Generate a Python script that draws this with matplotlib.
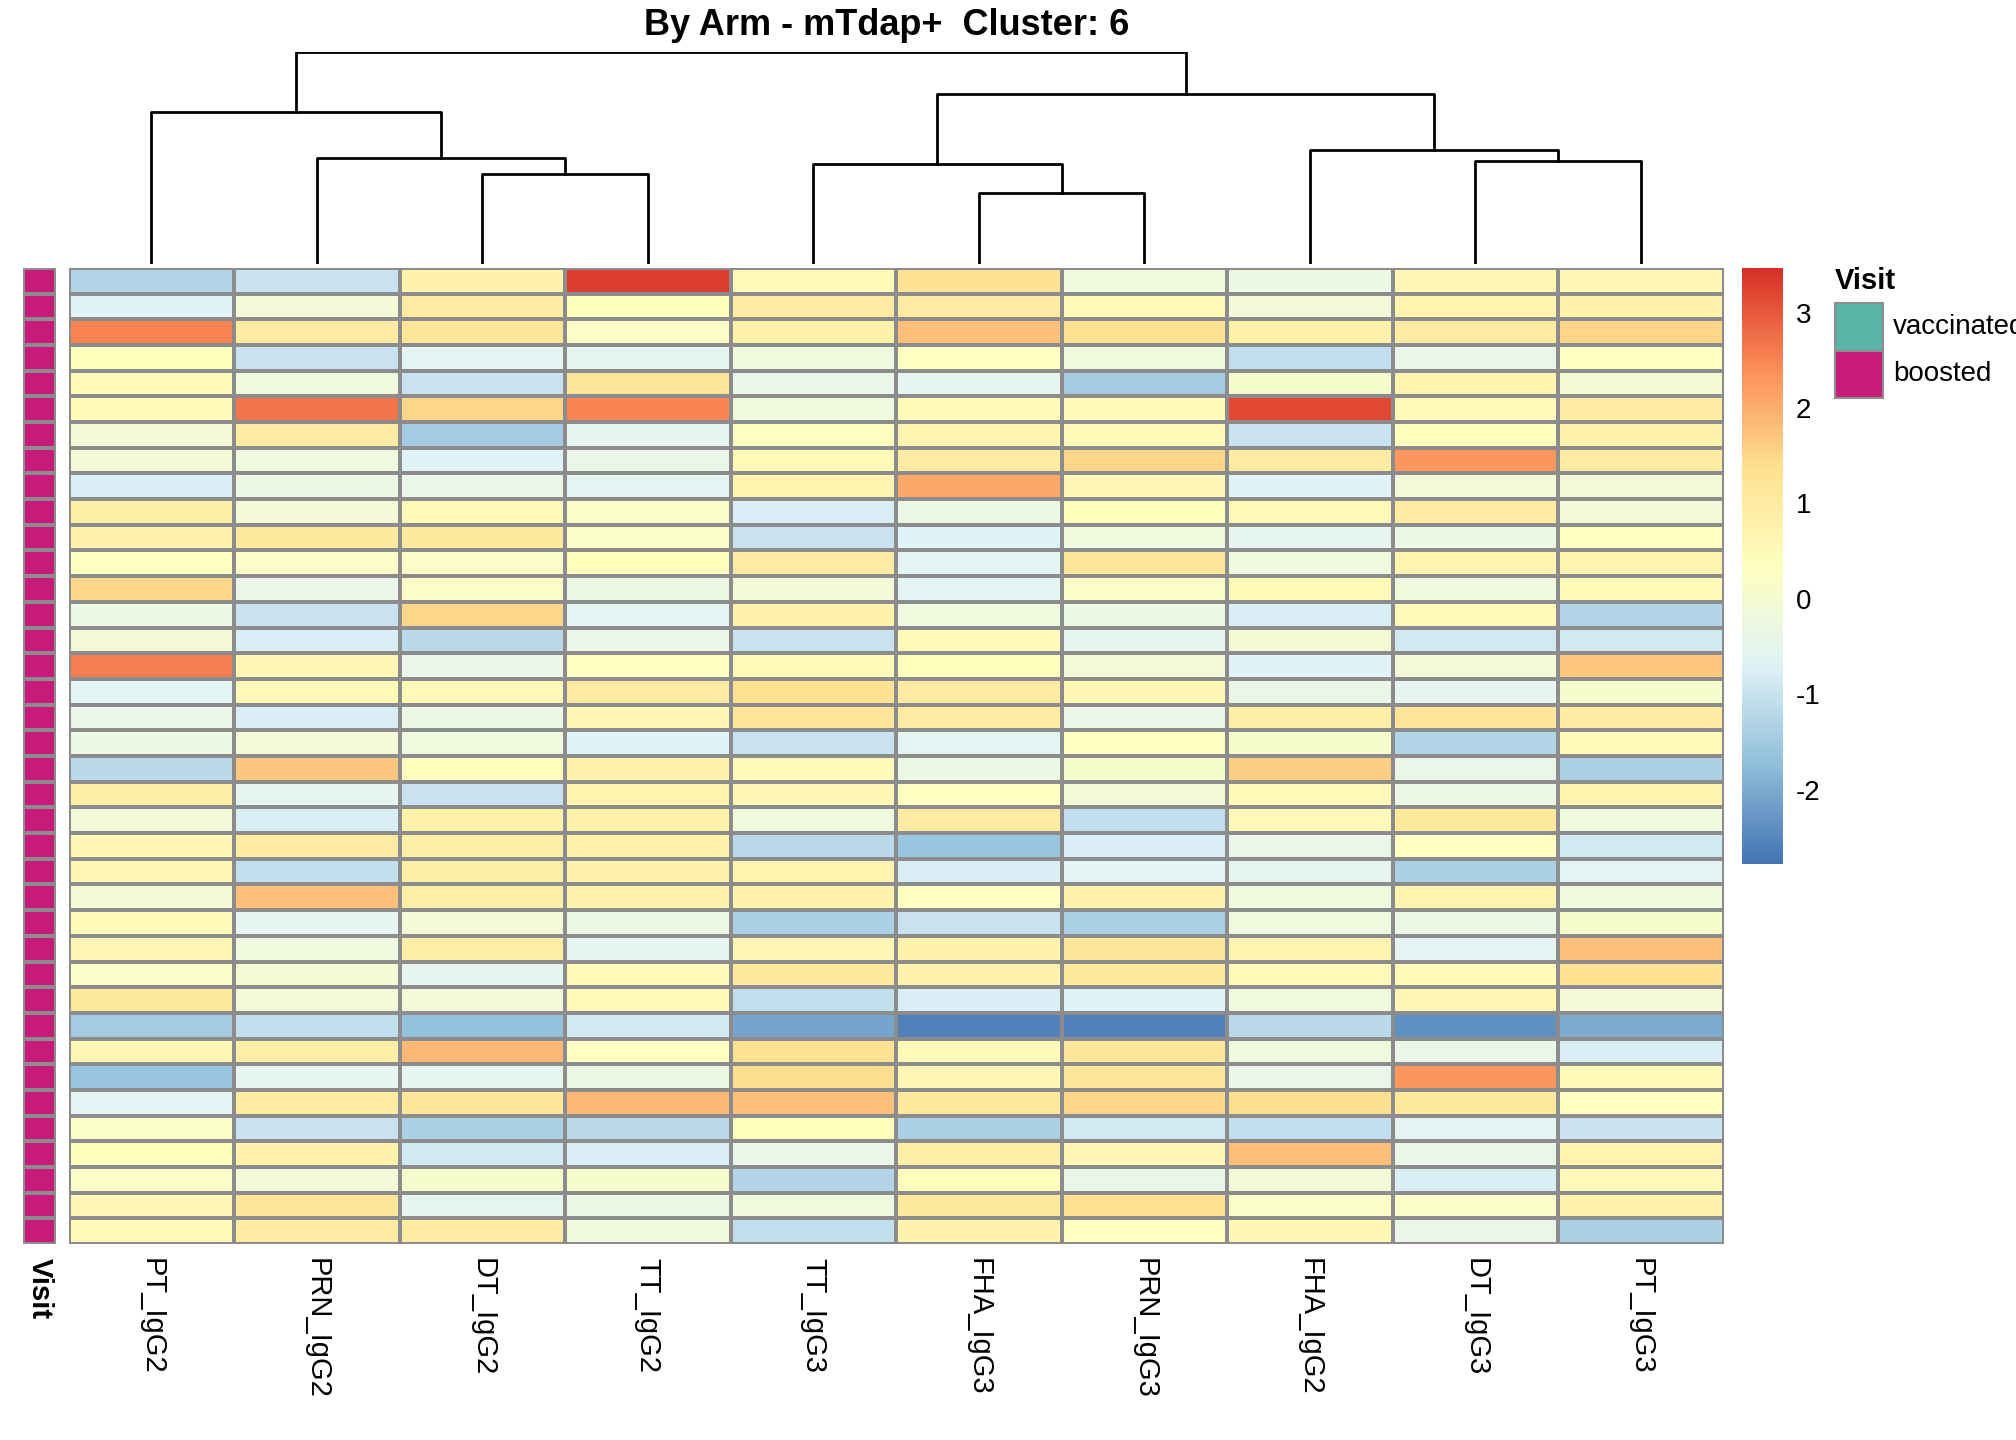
import matplotlib
matplotlib.use("Agg")
import matplotlib.pyplot as plt
import numpy as np
from matplotlib.patches import Rectangle
from matplotlib.colors import LinearSegmentedColormap, ListedColormap

plt.rcParams['font.family'] = ['Liberation Sans', 'DejaVu Sans']
plt.rcParams['axes.unicode_minus'] = False

columns = ["PT_IgG2", "PRN_IgG2", "DT_IgG2", "TT_IgG2", "TT_IgG3",
           "FHA_IgG3", "PRN_IgG3", "FHA_IgG2", "DT_IgG3", "PT_IgG3"]

values = np.array([
    [-1.3, -1.0, 0.8, 3.3, 0.5, 1.3, -0.2, -0.3, 0.6, 0.6],
    [-0.7, -0.1, 1.0, 0.4, 1.0, 1.0, 0.5, -0.1, 0.7, 0.8],
    [2.5, 1.0, 1.2, 0.2, 0.8, 1.8, 1.3, 0.8, 1.0, 1.5],
    [0.4, -1.0, -0.6, -0.5, -0.2, 0.3, -0.2, -1.1, -0.4, 0.3],
    [0.5, -0.2, -1.0, 1.2, -0.4, -0.5, -1.5, 0.1, 0.7, 0.0],
    [0.5, 2.7, 1.5, 2.5, -0.2, 0.5, 0.5, 3.2, 0.5, 1.0],
    [-0.1, 1.0, -1.5, -0.5, 0.3, 0.7, 0.5, -1.0, 0.4, 0.8],
    [-0.1, -0.2, -0.7, -0.4, 0.5, 1.0, 1.5, 1.0, 2.3, 1.0],
    [-0.8, -0.3, -0.4, -0.6, 0.7, 2.1, 0.6, -0.7, -0.1, -0.1],
    [0.9, -0.1, 0.5, 0.2, -0.8, -0.3, 0.4, 0.5, 1.0, -0.1],
    [0.8, 1.1, 1.1, 0.2, -1.0, -0.7, -0.2, -0.5, -0.3, 0.3],
    [0.3, 0.2, 0.2, 0.4, 1.0, -0.6, 1.2, -0.2, 0.7, 0.7],
    [1.5, -0.4, 0.2, -0.3, -0.1, -0.6, 0.2, 0.5, -0.2, 0.5],
    [-0.3, -1.0, 1.5, -0.6, 0.8, -0.2, -0.3, -0.8, 0.5, -1.3],
    [-0.1, -0.8, -1.2, -0.4, -1.0, 0.5, -0.5, 0.0, -0.9, -0.9],
    [2.6, 0.6, -0.4, 0.3, 0.5, 0.4, -0.1, -0.7, -0.1, 1.7],
    [-0.6, 0.5, 0.5, 1.0, 1.3, 1.0, 0.6, -0.4, -0.5, 0.1],
    [-0.4, -0.8, -0.3, 0.6, 1.2, 1.0, -0.4, 0.9, 1.2, 1.0],
    [-0.3, -0.1, -0.2, -0.7, -1.0, -0.6, 0.3, 0.1, -1.3, 0.5],
    [-1.2, 1.7, 0.4, 0.8, 0.5, -0.3, 0.1, 1.6, -0.4, -1.4],
    [0.9, -0.5, -1.0, 0.7, 0.6, 0.3, -0.1, 0.5, -0.3, 0.7],
    [-0.1, -0.8, 0.8, 0.8, -0.2, 1.0, -1.1, 0.5, 1.1, -0.2],
    [0.6, 1.0, 0.9, 0.8, -1.2, -1.6, -0.8, -0.4, 0.3, -0.9],
    [0.6, -1.1, 0.9, 0.8, 0.7, -0.8, -0.6, -0.5, -1.4, -0.6],
    [-0.1, 1.8, 0.9, 0.8, 0.8, 0.3, 0.8, -0.2, 0.7, -0.2],
    [0.5, -0.5, -0.1, -0.3, -1.4, -1.0, -1.4, -0.2, -0.3, 0.1],
    [0.6, -0.2, 0.9, -0.5, 0.6, 0.8, 1.2, 0.7, -0.6, 1.8],
    [0.2, 0.0, -0.5, 0.5, 1.1, 0.8, 1.1, 0.5, 0.5, 1.3],
    [1.1, -0.1, -0.1, 0.5, -1.1, -0.8, -0.7, -0.2, 0.6, -0.1],
    [-1.5, -1.1, -1.7, -0.9, -2.1, -2.6, -2.6, -1.2, -2.4, -2.0],
    [0.6, 0.9, 1.9, 0.3, 1.3, 0.5, 1.2, -0.2, -0.4, -0.8],
    [-1.6, -0.5, -0.5, -0.3, 1.4, 0.6, 1.2, -0.4, 2.3, 0.5],
    [-0.6, 1.0, 1.2, 1.9, 1.8, 1.1, 1.5, 1.4, 1.1, 0.3],
    [0.2, -1.0, -1.4, -1.2, 0.4, -1.4, -0.9, -1.1, -0.6, -1.0],
    [0.4, 0.8, -0.9, -0.8, -0.4, 0.9, 0.6, 1.8, -0.4, 0.7],
    [0.2, -0.1, 0.1, 0.1, -1.3, 0.4, -0.4, -0.1, -0.8, 0.5],
    [0.6, 1.2, -0.5, -0.3, -0.2, 1.1, 1.3, 0.2, 0.2, 0.8],
    [0.5, 1.0, 1.0, -0.2, -1.1, 0.8, 0.3, 0.6, -0.4, -1.4],
])

# merges: (left node, right node, height); leaves 0..9, new nodes 10..
merges = [(2, 3, 68), (1, 10, 80), (0, 11, 115), (5, 6, 54), (4, 13, 76),
          (8, 9, 78), (7, 15, 86), (14, 16, 129), (12, 17, 161)]

vmin, vmax = -2.78, 3.47
# pheatmap default palette: rev(brewer.pal(7, "RdYlBu"))
cmap = LinearSegmentedColormap.from_list(
    "ph", ["#4575B4", "#91BFDB", "#E0F3F8", "#FFFFBF", "#FEE090", "#FC8D59", "#D73027"])
nrow, ncol = values.shape
grid = "#8c8c8c"

fig = plt.figure(figsize=(20.16, 14.4), dpi=100)

# heatmap
ax = fig.add_axes([0.034, 0.136, 0.821, 0.678])
ax.pcolormesh(values, cmap=cmap, vmin=vmin, vmax=vmax, edgecolors=grid, linewidth=1.5)
ax.set_xlim(0, ncol)
ax.set_ylim(nrow, 0)
ax.set_xticks(np.arange(ncol) + 0.5)
ax.set_xticklabels(columns, rotation=-90, fontsize=21, va="top")
ax.set_yticks([])
ax.tick_params(axis="x", length=0, pad=10)
for s in ax.spines.values():
    s.set_visible(False)

# visit annotation bar
axv = fig.add_axes([0.0115, 0.136, 0.0165, 0.678])
axv.pcolormesh(np.zeros((nrow, 1)), cmap=ListedColormap(["#C71B7B"]),
               edgecolors=grid, linewidth=1.5)
axv.set_ylim(nrow, 0)
axv.set_xticks([0.5])
axv.set_xticklabels(["Visit"], rotation=-90, fontsize=21, fontweight="bold", va="top")
axv.set_yticks([])
axv.tick_params(axis="x", length=0, pad=10)
for s in axv.spines.values():
    s.set_visible(False)

# dendrogram
axd = fig.add_axes([0.034, 0.817, 0.821, 0.147])
pos = {i: i + 0.5 for i in range(ncol)}
hgt = {i: 0 for i in range(ncol)}
for k, (a, b, h) in enumerate(merges):
    n = ncol + k
    axd.plot([pos[a], pos[a], pos[b], pos[b]], [hgt[a], h, h, hgt[b]], color="black", lw=2)
    pos[n] = (pos[a] + pos[b]) / 2
    hgt[n] = h
axd.set_xlim(0, ncol)
axd.set_ylim(0, 161)
axd.axis("off")

fig.text(0.44, 0.982, "By Arm - mTdap+  Cluster: 6", ha="center", va="center",
         fontsize=26, fontweight="bold")

# colorbar
axc = fig.add_axes([0.864, 0.4, 0.02, 0.414])
grad = np.linspace(vmin, vmax, 300).reshape(-1, 1)
axc.imshow(grad, aspect="auto", cmap=cmap, origin="lower", extent=[0, 1, vmin, vmax])
axc.set_xticks([])
axc.yaxis.tick_right()
axc.set_yticks([-2, -1, 0, 1, 2, 3])
axc.tick_params(axis="y", length=0, labelsize=20, pad=10)
for s in axc.spines.values():
    s.set_visible(False)

# legend
fig.text(0.91, 0.805, "Visit", fontsize=21, fontweight="bold", va="center")
for i, (lab, col) in enumerate([("vaccinated", "#5AB4A8"), ("boosted", "#C71B7B")]):
    y = 0.773 - i * 0.033
    fig.patches.append(Rectangle((0.91, y - 0.0165), 0.024, 0.033, transform=fig.transFigure,
                                 facecolor=col, edgecolor=grid, lw=1.5))
    fig.text(0.939, y, lab, fontsize=20, va="center")

fig.savefig("out.png", dpi=100)
